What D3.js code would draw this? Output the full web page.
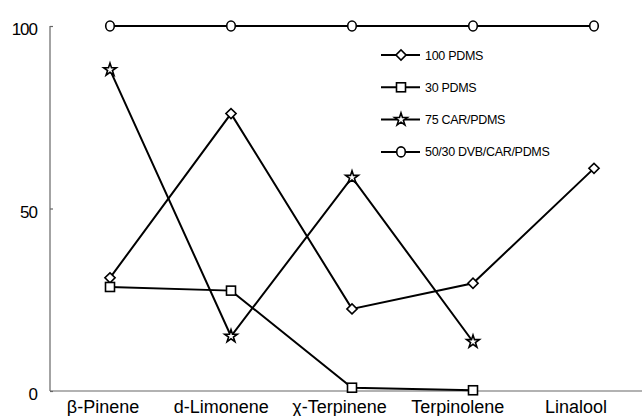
<!DOCTYPE html>
<html lang="en">
<head>
  <meta charset="UTF-8" />
  <title>Fiber comparison</title>
  <script src="https://d3js.org/d3.v7.min.js"></script>
  <style>
    body { margin: 0; background: #fff; }
    text { font-family: "Liberation Sans", Arial, sans-serif; fill: #000; }
    .axis line, .axis path { stroke: #666; stroke-width: 1.2px; }
    .series { fill: none; stroke: #000; stroke-width: 2px; }
    .marker { fill: #fff; stroke: #000; stroke-width: 1.6px; }
  </style>
</head>
<body>
  <svg width="642" height="416"></svg>

  <script>
    const width = 642;
    const height = 416;

    const categories = ["β-Pinene", "d-Limonene", "χ-Terpinene", "Terpinolene", "Linalool"];
    const seriesNames = ["100 PDMS", "30 PDMS", "75 CAR/PDMS", "50/30 DVB/CAR/PDMS"];
    const pdms100 = [31, 76, 22.5, 29.5, 61];
    const pdms30 = [28.5, 27.5, 0.9, 0.2, null];
    const carPdms75 = [88, 15, 58.5, 13.5, null];
    const dvbCarPdms = [100, 100, 100, 100, 100];
    const yTicks = [0, 50, 100];

    const seriesData = [pdms100, pdms30, carPdms75, dvbCarPdms];
    const symbols = ["diamond", "square", "star", "circle"];

    const svg = d3.select("svg");

    const x = d3.scalePoint().domain(categories).range([110, 594]);
    const xLabel = d3.scalePoint().domain(categories).range([103, 576]);
    const y = d3.scaleLinear().domain([0, 100]).range([391, 26]);

    // y axis
    const yAxis = svg.append("g")
      .attr("class", "axis")
      .attr("transform", "translate(50,0)")
      .call(d3.axisRight(y).tickValues(yTicks).tickSize(3).tickFormat(""));
    yAxis.select(".domain").attr("d", `M0,${y(100)}V${y(0)}`);

    svg.selectAll(".ytick-label")
      .data(yTicks)
      .enter()
      .append("text")
      .attr("class", "ytick-label")
      .attr("x", 37)
      .attr("y", d => y(d) + 9)
      .attr("text-anchor", "end")
      .attr("font-size", 17)
      .attr("letter-spacing", -1)
      .text(d => d);

    // x axis
    svg.append("line")
      .attr("class", "axis")
      .attr("x1", 50).attr("x2", width)
      .attr("y1", y(0)).attr("y2", y(0))
      .style("stroke", "#666").style("stroke-width", 1.2);

    svg.selectAll(".xlabel")
      .data(categories)
      .enter()
      .append("text")
      .attr("class", "xlabel")
      .attr("x", d => xLabel(d))
      .attr("y", 413)
      .attr("text-anchor", "middle")
      .attr("font-size", 18)
      .text(d => d);

    function drawMarker(g, type, cx, cy) {
      if (type === "diamond") {
        g.append("rect").attr("class", "marker")
          .attr("x", -3.6).attr("y", -3.6).attr("width", 7.2).attr("height", 7.2)
          .attr("transform", `translate(${cx},${cy}) rotate(45)`);
      } else if (type === "square") {
        g.append("rect").attr("class", "marker")
          .attr("x", cx - 4.5).attr("y", cy - 4.5).attr("width", 9).attr("height", 9);
      } else if (type === "star") {
        g.append("path").attr("class", "marker")
          .attr("d", d3.symbol(d3.symbolStar, 50)())
          .attr("transform", `translate(${cx},${cy})`);
      } else {
        g.append("ellipse").attr("class", "marker")
          .attr("cx", cx).attr("cy", cy).attr("rx", 4.3).attr("ry", 5);
      }
    }

    const line = d3.line()
      .defined(d => d.v !== null)
      .x(d => x(d.c))
      .y(d => y(d.v));

    seriesData.forEach((vals, i) => {
      const pts = vals.map((v, j) => ({ c: categories[j], v: v }));
      svg.append("path").attr("class", "series").attr("d", line(pts));
      const g = svg.append("g");
      pts.filter(p => p.v !== null).forEach(p => drawMarker(g, symbols[i], x(p.c), y(p.v)));
    });

    // legend
    const legend = svg.append("g");
    seriesNames.forEach((name, i) => {
      const ly = 55 + i * 32.3;
      legend.append("line")
        .attr("x1", 381).attr("x2", 420)
        .attr("y1", ly).attr("y2", ly)
        .attr("stroke", "#000").attr("stroke-width", 2);
      drawMarker(legend, symbols[i], 401, ly);
      legend.append("text")
        .attr("x", 425)
        .attr("y", ly + 4.5)
        .attr("font-size", 12.5)
        .attr("letter-spacing", -0.3)
        .text(name);
    });
  </script>
</body>
</html>
